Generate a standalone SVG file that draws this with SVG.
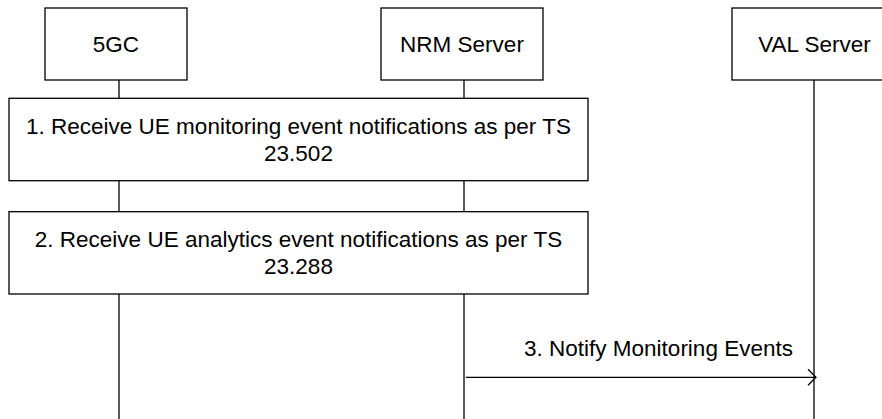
<svg xmlns="http://www.w3.org/2000/svg" width="882" height="419" viewBox="0 0 882 419">
<style>
.box{fill:#fff;stroke:#000;stroke-width:1.3}
.ln{stroke:#000;stroke-width:1.3;fill:none}
text{font-family:"Liberation Sans",Arial,sans-serif;font-size:22.5px;fill:#000;text-anchor:middle}
</style>
<defs>
<marker id="open" markerWidth="12" markerHeight="20" refX="9" refY="9" orient="auto" markerUnits="userSpaceOnUse">
<path d="M1,1 L9,9 L1,17" fill="none" stroke="#000" stroke-width="1.3"/>
</marker>
</defs>
<g id="connectors">
<line class="ln" x1="119" y1="80" x2="119" y2="98"/>
<line class="ln" x1="119" y1="181" x2="119" y2="212"/>
<line class="ln" x1="119" y1="294" x2="119" y2="419"/>
<line class="ln" x1="464" y1="80" x2="464" y2="98"/>
<line class="ln" x1="464" y1="181" x2="464" y2="212"/>
<line class="ln" x1="464" y1="294" x2="464" y2="419"/>
<line class="ln" x1="814" y1="80" x2="814" y2="419"/>
<line class="ln" x1="466" y1="377.3" x2="816" y2="377.3" marker-end="url(#open)"/>
<text x="658.5" y="355.7">3. Notify Monitoring Events</text>
</g>
<g id="n5gc">
<rect class="box" x="45" y="8" width="142" height="72"/>
<text x="116" y="52">5GC</text>
</g>
<g id="nrm">
<rect class="box" x="381" y="8" width="162" height="72"/>
<text x="462" y="52">NRM Server</text>
</g>
<g id="val">
<rect class="box" x="732" y="8" width="164" height="72"/>
<text x="814.5" y="52">VAL Server</text>
</g>
<g id="step1">
<rect class="box" x="9" y="98.3" width="579" height="82.4"/>
<text x="298.5" y="133.5">1. Receive UE monitoring event notifications as per TS</text>
<text x="298.5" y="160.5">23.502</text>
</g>
<g id="step2">
<rect class="box" x="9" y="211.7" width="579" height="82.3"/>
<text x="298.5" y="247">2. Receive UE analytics event notifications as per TS</text>
<text x="298.5" y="274">23.288</text>
</g>
</svg>
